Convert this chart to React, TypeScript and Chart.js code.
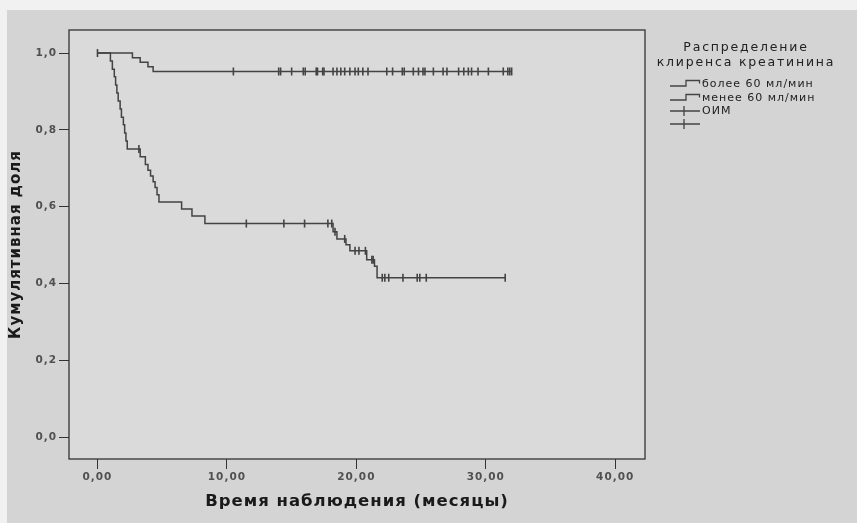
import React, { useEffect, useRef } from 'react';
import { Chart, registerables } from 'chart.js';

Chart.register(...registerables);

// ---- Data ----
// Group "более 60 мл/мин": event times (months) and cumulative survival after each event
const upperTimes = [0, 2.7, 3.3, 3.9, 4.3, 32.0];
const upperSurv = [1.0, 0.988, 0.976, 0.964, 0.952, 0.952];
// censored observations (months)
const upperCensored = [
  0, 10.5, 14.0, 14.15, 15.0, 15.9, 16.05, 16.9, 17.0, 17.4, 17.5, 18.2, 18.5, 18.8, 19.1, 19.5,
  19.9, 20.15, 20.5, 20.9, 22.35, 22.8, 23.55, 23.7, 24.4, 24.8, 25.15, 25.3, 25.95, 26.7, 27.0,
  27.9, 28.3, 28.65, 28.9, 29.4, 30.2, 31.35, 31.7, 31.85, 32.0,
];

// Group "менее 60 мл/мин"
const lowerTimes = [
  0, 1.0, 1.15, 1.3, 1.4, 1.5, 1.6, 1.75, 1.85, 2.0, 2.1, 2.2, 2.3, 3.3, 3.7, 3.9, 4.1, 4.3,
  4.45, 4.6, 4.75, 6.5, 7.3, 8.3, 18.2, 18.5, 19.2, 19.5, 20.8, 21.4, 21.6, 31.5,
];
const lowerSurv = [
  1.0, 0.979, 0.958, 0.938, 0.917, 0.896, 0.875, 0.854, 0.833, 0.813, 0.792, 0.771, 0.75, 0.73,
  0.71, 0.695, 0.68, 0.665, 0.65, 0.631, 0.612, 0.594, 0.576, 0.556, 0.535, 0.516, 0.501, 0.485,
  0.462, 0.445, 0.415, 0.415,
];
const lowerCensored = [
  3.2, 11.5, 14.4, 16.0, 17.8, 18.1, 18.35, 19.1, 19.9, 20.2, 20.7, 21.2, 21.3, 22.0, 22.2, 22.5,
  23.6, 24.7, 24.9, 25.4, 31.5,
];

const xTickValues = [0, 10, 20, 30, 40];
const xTickLabels = ['0,00', '10,00', '20,00', '30,00', '40,00'];
const yTickValues = [0, 0.2, 0.4, 0.6, 0.8, 1.0];
const yTickLabels = ['0,0', '0,2', '0,4', '0,6', '0,8', '1,0'];

const xTitle = 'Время наблюдения (месяцы)';
const yTitle = 'Кумулятивная доля';
const legendTitle = ['Распределение', 'клиренса креатинина'];
const legendLabels = ['более 60 мл/мин', 'менее 60 мл/мин', 'ОИМ', ''];

const LINE = '#434343';
const FONT = 'DejaVu Sans';

function survivalAt(times: number[], surv: number[], t: number) {
  let v = surv[0];
  for (let i = 0; i < times.length; i++) if (times[i] <= t) v = surv[i];
  return v;
}

const bgPlugin = {
  id: 'bg',
  beforeUpdate(chart: any) {
    chart.ctx.letterSpacing = '1px';
  },
  beforeDraw(chart: any) {
    const { ctx, chartArea: a } = chart;
    ctx.save();
    ctx.fillStyle = '#f1f1f1';
    ctx.fillRect(0, 0, chart.width, chart.height);
    ctx.fillStyle = '#d4d4d4';
    ctx.fillRect(7, 10, chart.width - 7, chart.height - 10);
    ctx.fillStyle = '#dadada';
    ctx.fillRect(a.left, a.top, a.right - a.left, a.bottom - a.top);
    ctx.restore();
    ctx.letterSpacing = '1px';
  },
  afterDraw(chart: any) {
    const { ctx, chartArea: a } = chart;
    ctx.save();
    ctx.strokeStyle = '#333';
    ctx.lineWidth = 1.3;
    ctx.strokeRect(a.left, a.top, a.right - a.left, a.bottom - a.top);
    ctx.restore();
  },
};

const legendPlugin = {
  id: 'kmLegend',
  afterDraw(chart: any) {
    const ctx = chart.ctx;
    ctx.save();
    ctx.fillStyle = '#222';
    ctx.textBaseline = 'middle';
    ctx.textAlign = 'center';
    ctx.letterSpacing = '1.8px';
    ctx.font = `12.5px "${FONT}"`;
    legendTitle.forEach((t, i) => ctx.fillText(t, 746, 48 + i * 15));
    ctx.letterSpacing = '1px';
    ctx.font = `11px "${FONT}"`;
    ctx.textAlign = 'left';
    ctx.strokeStyle = LINE;
    ctx.lineWidth = 1.3;
    const rows = [84, 98, 111, 124];
    legendLabels.forEach((label, i) => {
      const cy = rows[i];
      ctx.beginPath();
      if (i < 2) {
        ctx.moveTo(670, cy + 2);
        ctx.lineTo(686, cy + 2);
        ctx.lineTo(686, cy - 3.5);
        ctx.lineTo(699.5, cy - 3.5);
        ctx.lineTo(699.5, cy - 0.5);
      } else {
        ctx.moveTo(670, cy);
        ctx.lineTo(700, cy);
        ctx.moveTo(684, cy - 5);
        ctx.lineTo(684, cy + 5);
      }
      ctx.stroke();
      if (label) ctx.fillText(label, 702, cy);
    });
    ctx.restore();
  },
};

export default function App() {
  const ref = useRef<HTMLCanvasElement>(null);

  useEffect(() => {
    document.body.style.margin = '0';
    document.body.style.background = '#f1f1f1';
    const canvas = ref.current!;
    const curve = (times: number[], surv: number[]) => times.map((t, i) => ({ x: t, y: surv[i] }));
    const marks = (cens: number[], times: number[], surv: number[]) =>
      cens.map((t) => ({ x: t, y: survivalAt(times, surv, t) }));

    const chart = new Chart(canvas, {
      type: 'scatter',
      data: {
        datasets: [
          {
            label: legendLabels[0],
            data: curve(upperTimes, upperSurv),
            showLine: true,
            stepped: 'before',
            borderColor: LINE,
            borderWidth: 1.5,
            pointRadius: 0,
          },
          {
            label: legendLabels[1],
            data: curve(lowerTimes, lowerSurv),
            showLine: true,
            stepped: 'before',
            borderColor: LINE,
            borderWidth: 1.5,
            pointRadius: 0,
          },
          {
            label: 'censored 1',
            data: marks(upperCensored, upperTimes, upperSurv),
            showLine: false,
            pointStyle: 'line',
            rotation: 90,
            pointRadius: 4,
            borderColor: LINE,
            borderWidth: 1.6,
          },
          {
            label: 'censored 2',
            data: marks(lowerCensored, lowerTimes, lowerSurv),
            showLine: false,
            pointStyle: 'line',
            rotation: 90,
            pointRadius: 4,
            borderColor: LINE,
            borderWidth: 1.6,
          },
        ],
      } as any,
      options: {
        responsive: false,
        animation: false,
        devicePixelRatio: 1,
        layout: { padding: { left: 0, top: 30, right: 212, bottom: 0 } },
        plugins: { legend: { display: false }, tooltip: { enabled: false } },
        scales: {
          x: {
            type: 'linear',
            min: -2.2,
            max: 42.3,
            afterBuildTicks: (s: any) => {
              s.ticks = xTickValues.map((v) => ({ value: v }));
            },
            afterFit: (s: any) => {
              s.height = 64;
            },
            border: { display: false },
            grid: { display: true, drawOnChartArea: false, drawTicks: true, tickLength: 10, color: '#333', lineWidth: 1 },
            ticks: {
              color: '#505050',
              font: { family: FONT, size: 10.5, weight: 'bold' },
              padding: 2,
              maxRotation: 0,
              autoSkip: false,
              callback: (_v: any, i: number) => xTickLabels[i],
            },
            title: {
              display: true,
              text: xTitle,
              color: '#1a1a1a',
              font: { family: FONT, size: 16.5, weight: 'bold' },
              padding: { top: 0, bottom: 11 },
            },
          },
          y: {
            type: 'linear',
            min: -0.057,
            max: 1.06,
            afterBuildTicks: (s: any) => {
              s.ticks = yTickValues.map((v) => ({ value: v }));
            },
            afterFit: (s: any) => {
              s.width = 69;
            },
            border: { display: false },
            grid: { display: true, drawOnChartArea: false, drawTicks: true, tickLength: 10, color: '#333', lineWidth: 1 },
            ticks: {
              color: '#505050',
              font: { family: FONT, size: 10.5, weight: 'bold' },
              padding: 2,
              autoSkip: false,
              callback: (_v: any, i: number) => yTickLabels[i],
            },
            title: {
              display: true,
              text: yTitle,
              color: '#1a1a1a',
              font: { family: FONT, size: 15, weight: 'bold' },
              padding: { top: 7, bottom: 0 },
            },
          },
        },
      } as any,
      plugins: [bgPlugin, legendPlugin],
    });
    return () => chart.destroy();
  }, []);

  return (
    <canvas
      ref={ref}
      width={857}
      height={523}
      style={{ display: 'block', width: '857px', height: '523px' }}
    />
  );
}
